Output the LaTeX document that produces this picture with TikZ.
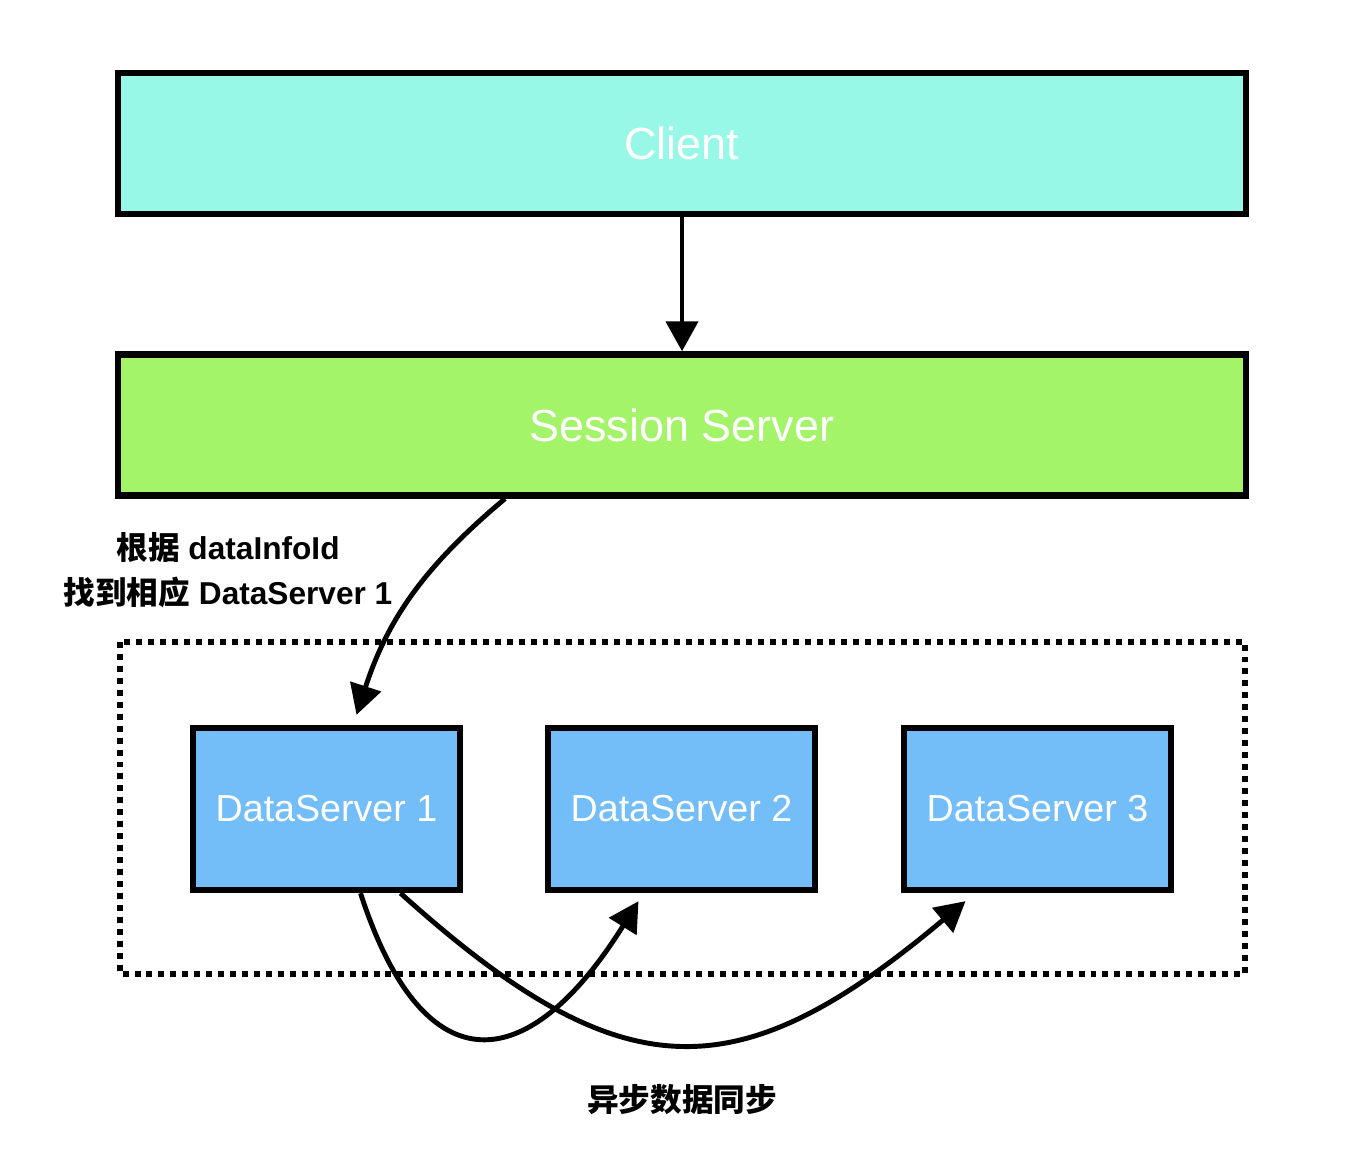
\documentclass[tikz,border=0pt]{standalone}
\usepackage{fontspec}
\setmainfont{Liberation Sans}
\newfontfamily\cjk{Noto Sans CJK SC}
\usetikzlibrary{arrows.meta}

\definecolor{clientcor}{RGB}{151,248,232}
\definecolor{sessioncor}{RGB}{164,244,106}
\definecolor{datacor}{RGB}{115,190,249}

\tikzset{
  caixa/.style={draw=black, line width=1.8pt, minimum width=11.28cm, minimum height=1.41cm,
    text=white, font=\fontsize{12.8}{15}\selectfont},
  servidor/.style={draw=black, line width=1.8pt, fill=datacor, minimum width=2.67cm,
    minimum height=1.62cm, text=white, font=\fontsize{10.7}{13}\selectfont},
  grupo/.style={line width=1.7pt, dash pattern=on 1.7pt off 1.7pt},
  fluxo/.style={line width=1.4pt, -{Triangle[width=9pt,length=8.5pt]}},
  rotulo/.style={font=\bfseries\fontsize{9}{12.6}\selectfont, align=center}
}

\begin{document}
\begin{tikzpicture}
	\useasboundingbox (0,0) rectangle (13.56,-11.74);
	% caixas principais
	\node[caixa, fill=clientcor] (client) at (6.82,-1.435) {Client};
	\node[caixa, fill=sessioncor] (session) at (6.82,-4.25) {Session Server};
	% grupo de servidores
	\draw[grupo] (1.2,-6.42) rectangle (12.45,-9.74);
	\node[servidor] (ds1) at (3.265,-8.09) {DataServer 1};
	\node[servidor] (ds2) at (6.815,-8.09) {DataServer 2};
	\node[servidor] (ds3) at (10.375,-8.09) {DataServer 3};
	% setas
	\draw[fluxo] (client.south) -- (session.north);
	\draw[fluxo] ([xshift=-1.77cm]session.south) to[out=-140,in=72] ([xshift=0.3cm,yshift=0.1cm]ds1.north);
	\draw[fluxo] ([xshift=0.34cm]ds1.south) to[out=-72,in=-122,looseness=1.9] ([xshift=-0.43cm,yshift=-0.08cm]ds2.south);
	\draw[fluxo] ([xshift=0.74cm]ds1.south) to[out=-42,in=-140,looseness=1.35] ([xshift=-0.72cm,yshift=-0.08cm]ds3.south);
	% textos
	\node[rotulo] (busca) at (2.28,-5.7) {{\cjk 根据} dataInfoId\\{\cjk 找到相应} DataServer 1};
	\node[rotulo] (sinc) at (6.82,-11.0) {\cjk 异步数据同步};
\end{tikzpicture}
\end{document}
